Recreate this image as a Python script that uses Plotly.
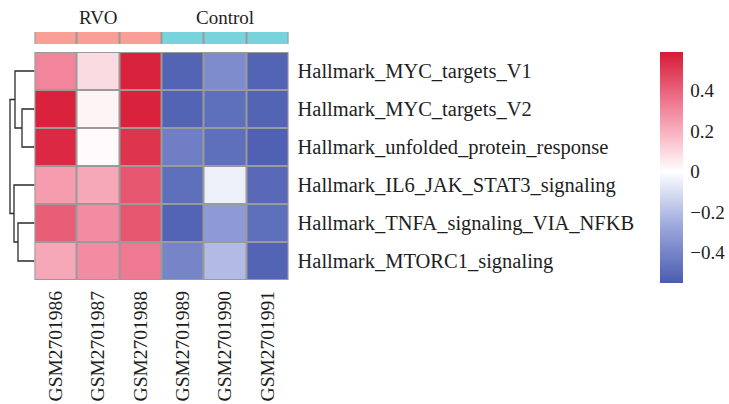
import plotly.graph_objects as go

W, H = 729, 404

samples = ["GSM2701986", "GSM2701987", "GSM2701988", "GSM2701989", "GSM2701990", "GSM2701991"]
groups = ["RVO", "RVO", "RVO", "Control", "Control", "Control"]
pathways = [
    "Hallmark_MYC_targets_V1",
    "Hallmark_MYC_targets_V2",
    "Hallmark_unfolded_protein_response",
    "Hallmark_IL6_JAK_STAT3_signaling",
    "Hallmark_TNFA_signaling_VIA_NFKB",
    "Hallmark_MTORC1_signaling",
]
scores_myc_v1 = [0.31, 0.09, 0.57, -0.52, -0.37, -0.52]
scores_myc_v2 = [0.57, 0.03, 0.57, -0.52, -0.48, -0.52]
scores_upr = [0.55, 0.01, 0.52, -0.42, -0.48, -0.53]
scores_il6 = [0.25, 0.22, 0.43, -0.48, -0.05, -0.50]
scores_tnfa = [0.41, 0.29, 0.43, -0.52, -0.32, -0.48]
scores_mtorc1 = [0.22, 0.29, 0.34, -0.40, -0.21, -0.52]
z = [scores_myc_v1, scores_myc_v2, scores_upr, scores_il6, scores_tnfa, scores_mtorc1]

# row dendrogram: (left, right, height); ids >= 6 are earlier merges
row_merges = [(1, 2, 12.5), (0, 6, 19.5), (4, 5, 16.5), (3, 8, 20.5), (7, 9, 24.5)]

group_colors = {"RVO": "#FA9F96", "Control": "#78D4DC"}
cbar_ticks = [-0.4, -0.2, 0, 0.2, 0.4]
zmin, zmax = -0.55, 0.59

FONT = "Liberation Serif"
GRID = "#9a9a9a"
TXT = "#1e1e1e"

def px_x(p):
    return p / W

def px_y(p):
    return 1 - p / H

# layout positions (px)
hm_x0, hm_x1 = 34.5, 288.5
hm_y0, hm_y1 = 52, 280
an_y0, an_y1 = 32, 44
dg_x0 = 8

mid = -zmin / (zmax - zmin)
colorscale = [
    [0, "#4a5cb0"],
    [mid * 0.5, "#9aa6dc"],
    [mid, "#ffffff"],
    [mid + 0.5 * (1 - mid), "#f38aa0"],
    [1, "#d71a35"],
]

fig = go.Figure()

n = len(pathways)
ys = list(range(n))
xs = list(range(len(samples)))

fig.add_trace(go.Heatmap(
    z=z, x=xs, y=ys, xaxis="x", yaxis="y",
    colorscale=colorscale, zmin=zmin, zmax=zmax,
    xgap=2, ygap=2, hoverinfo="skip",
    colorbar=dict(
        x=px_x(660), xanchor="left", thickness=23, thicknessmode="pixels",
        len=231, lenmode="pixels", y=px_y((52 + 283) / 2), yanchor="middle",
        outlinewidth=0, tickvals=cbar_ticks, ticks="outside", ticklen=4,
        tickcolor="rgba(0,0,0,0)", xpad=0, ypad=0,
        tickfont=dict(family=FONT, size=19, color=TXT),
    ),
))

# annotation bar
ann_z = [[0 if g == "RVO" else 1 for g in groups]]
fig.add_trace(go.Heatmap(
    z=ann_z, x=xs, y=[0], xaxis="x", yaxis="y3",
    colorscale=[[0, group_colors["RVO"]], [1, group_colors["Control"]]],
    zmin=0, zmax=1, showscale=False, xgap=2, ygap=0, hoverinfo="skip",
))

# dendrogram lines
pos = {i: (0.0, float(i)) for i in range(n)}
lx, ly = [], []
for k, (a, b, h) in enumerate(row_merges):
    ha, ya = pos[a]
    hb, yb = pos[b]
    lx += [ha, h, h, hb, None]
    ly += [ya, ya, yb, yb, None]
    pos[n + k] = (h, (ya + yb) / 2)
fig.add_trace(go.Scatter(
    x=lx, y=ly, xaxis="x2", yaxis="y", mode="lines",
    line=dict(color="#2a2a2a", width=1.3), hoverinfo="skip", showlegend=False,
))

# group labels
for g in ["RVO", "Control"]:
    idx = [i for i, gg in enumerate(groups) if gg == g]
    fig.add_annotation(
        x=sum(idx) / len(idx), xref="x", y=px_y(17), yref="paper",
        xanchor="center", yanchor="middle",
        text=g, showarrow=False, font=dict(family=FONT, size=19, color=TXT),
    )

# grey backgrounds for cell borders
fig.add_shape(type="rect", xref="x", yref="y", x0=-0.5, x1=len(samples) - 0.5,
              y0=-0.5, y1=n - 0.5, fillcolor=GRID, line=dict(color=GRID, width=1.5),
              layer="below")
fig.add_shape(type="rect", xref="x", yref="y3", x0=-0.5, x1=len(samples) - 0.5,
              y0=-0.5, y1=0.5, fillcolor=GRID, line=dict(color=GRID, width=1.5),
              layer="below")

max_h = max(m[2] for m in row_merges)
fig.update_layout(
    width=W, height=H, margin=dict(l=0, r=0, t=0, b=0),
    paper_bgcolor="white", plot_bgcolor="white", showlegend=False,
    xaxis=dict(domain=[px_x(hm_x0), px_x(hm_x1)], range=[-0.5, len(samples) - 0.5],
               tickvals=xs, ticktext=samples, tickangle=-90, anchor="y",
               tickfont=dict(family=FONT, size=19.5, color=TXT),
               showgrid=False, zeroline=False, showline=False, ticks="",
               ticklabelstandoff=6),
    yaxis=dict(domain=[px_y(hm_y1), px_y(hm_y0)], range=[n - 0.5, -0.5],
               tickvals=ys, ticktext=pathways, side="right", anchor="x",
               tickfont=dict(family=FONT, size=20.5, color=TXT),
               showgrid=False, zeroline=False, showline=False, ticks="",
               ticklabelstandoff=8),
    xaxis2=dict(domain=[px_x(dg_x0), px_x(hm_x0)], range=[max_h + 2, 0],
                showticklabels=False, showgrid=False, zeroline=False, anchor="y"),
    yaxis3=dict(domain=[px_y(an_y1), px_y(an_y0)], range=[-0.5, 0.5],
                showticklabels=False, showgrid=False, zeroline=False, anchor="x"),
)

fig.write_html("out.html")
